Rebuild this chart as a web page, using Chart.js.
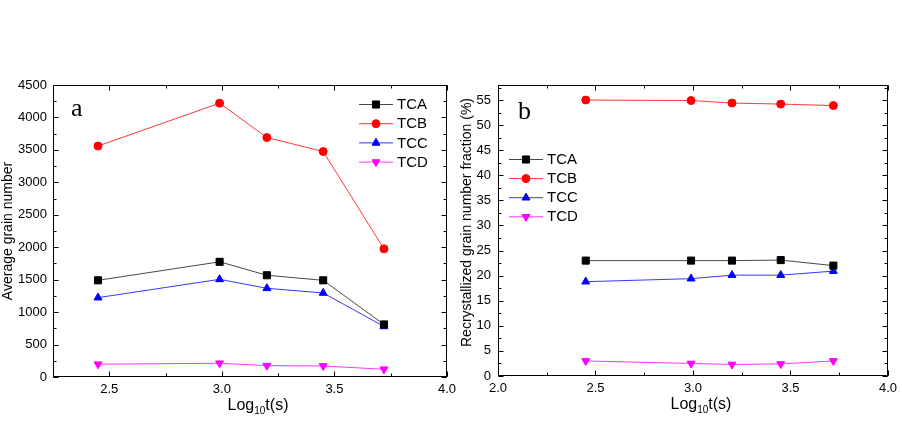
<!DOCTYPE html>
<html>
<head>
<meta charset="utf-8">
<script src="https://cdn.jsdelivr.net/npm/chart.js@4.4.0/dist/chart.umd.min.js"></script>
<style>
  html, body { margin: 0; padding: 0; background: #fff; }
  #wrap { position: relative; width: 902px; height: 424px; overflow: hidden; }
  #wrap canvas { position: absolute; top: 0; }
  #chartA { left: 0; }
  #chartB { left: 455px; }
</style>
</head>
<body>
<div id="wrap">
  <canvas id="chartA" width="470" height="424"></canvas>
  <canvas id="chartB" width="447" height="424"></canvas>
</div>
<script>
// ---- data ----
const logTime = [2.45, 2.99, 3.20, 3.45, 3.72];
const seriesNames = ['TCA', 'TCB', 'TCC', 'TCD'];

// (a) average grain number
const grainTCA = [1490, 1775, 1568, 1490, 810];
const grainTCB = [3560, 4220, 3690, 3475, 1975];
const grainTCC = [1223, 1505, 1367, 1295, 779];
const grainTCD = [197, 212, 175, 170, 119];

// (b) recrystallized grain number fraction (%)
const fracTCA = [23.0, 23.0, 23.0, 23.1, 22.0];
const fracTCB = [55.0, 54.9, 54.4, 54.2, 53.9];
const fracTCC = [18.8, 19.4, 20.1, 20.1, 20.9];
const fracTCD = [3.0, 2.5, 2.3, 2.4, 3.0];

const xTicksA = [2.5, 3.0, 3.5, 4.0];
const xTicksB = [2.0, 2.5, 3.0, 3.5, 4.0];
const yTicksA = [0, 500, 1000, 1500, 2000, 2500, 3000, 3500, 4000, 4500];
const yTicksB = [0, 5, 10, 15, 20, 25, 30, 35, 40, 45, 50, 55];

// marker / line style per series (Origin defaults)
const SERIES_STYLE = [
  { color: '#000000', line: '#333333', pointStyle: 'rect', radius: 5, rotation: 0 },
  { color: '#ff0000', line: '#ff2020', pointStyle: 'circle', radius: 4, rotation: 0 },
  { color: '#0000ff', line: '#2020ff', pointStyle: 'triangle', radius: 4.6, rotation: 0 },
  { color: '#ff00ff', line: '#ff20ff', pointStyle: 'triangle', radius: 4.6, rotation: 180 },
];

const FONT = "'Liberation Sans', Arial, sans-serif";

// frame, inward ticks, titles, legend and panel letter
const originPlugin = {
  id: 'origin',
  afterDatasetsDraw(chart, args, o) {
    const { ctx, chartArea: a, scales } = chart;
    const L = Math.round(a.left) + 0.5, R = Math.round(a.right) - 0.5;
    const T = Math.round(a.top) + 0.5, B = Math.round(a.bottom) - 0.5;
    ctx.save();
    ctx.strokeStyle = '#000';
    ctx.lineWidth = 1;
    ctx.strokeRect(L, T, R - L, B - T);

    const tick = (len, vx, vy) => {
      ctx.beginPath();
      vx.forEach(v => {
        const p = Math.round(scales.x.getPixelForValue(v)) + 0.5;
        ctx.moveTo(p, B); ctx.lineTo(p, B - len);
        ctx.moveTo(p, T); ctx.lineTo(p, T + len);
      });
      vy.forEach(v => {
        const p = Math.round(scales.y.getPixelForValue(v)) + 0.5;
        ctx.moveTo(L, p); ctx.lineTo(L + len, p);
        ctx.moveTo(R, p); ctx.lineTo(R - len, p);
      });
      ctx.stroke();
    };
    const xMaj = scales.x.ticks.map(t => t.value);
    const yMaj = scales.y.ticks.map(t => t.value);
    const xMin = [], yMin = [];
    for (let v = scales.x.min; v <= scales.x.max + 1e-9; v += o.xMinor) xMin.push(v);
    for (let v = scales.y.min; v <= scales.y.max + 1e-9; v += o.yMinor) yMin.push(v);
    tick(3, xMin, yMin);
    tick(5, xMaj, yMaj);

    ctx.fillStyle = '#000';
    // panel letter
    ctx.font = `${o.letterSize}px 'Liberation Serif', 'Times New Roman', serif`;
    ctx.textAlign = 'left';
    ctx.textBaseline = 'alphabetic';
    ctx.fillText(o.letter, a.left + o.letterX, a.top + o.letterY);

    // y title
    ctx.save();
    ctx.translate(o.yTitleX, (a.top + a.bottom) / 2 + o.yTitleShift);
    ctx.rotate(-Math.PI / 2);
    ctx.font = `14px ${FONT}`;
    ctx.textAlign = 'center';
    ctx.textBaseline = 'middle';
    ctx.fillText(o.yTitle, 0, 0);
    ctx.restore();

    // x title Log10t(s)
    const big = `16px ${FONT}`, small = `10px ${FONT}`;
    ctx.font = big; const w1 = ctx.measureText('Log').width, w3 = ctx.measureText('t(s)').width;
    ctx.font = small; const w2 = ctx.measureText('10').width;
    let x = (a.left + a.right) / 2 + 8 - (w1 + w2 + w3) / 2;
    const base = a.bottom + 33;
    ctx.textAlign = 'left';
    ctx.font = big; ctx.fillText('Log', x, base); x += w1;
    ctx.font = small; ctx.fillText('10', x, base + 4); x += w2;
    ctx.font = big; ctx.fillText('t(s)', x, base);

    // legend inside the frame
    ctx.font = `15px ${FONT}`;
    ctx.textBaseline = 'middle';
    chart.data.datasets.forEach((ds, i) => {
      const y = a.top + o.legendTop + i * o.legendGap;
      const x0 = a.left + o.legendLeft;
      ctx.strokeStyle = ds.borderColor;
      ctx.lineWidth = ds.borderWidth;
      ctx.beginPath(); ctx.moveTo(x0, y + 0.5); ctx.lineTo(x0 + 34, y + 0.5); ctx.stroke();
      ctx.lineWidth = 1;
      ctx.fillStyle = ds.pointBackgroundColor;
      ctx.strokeStyle = ds.pointBorderColor;
      Chart.helpers.drawPoint(ctx, {
        pointStyle: ds.pointStyle, rotation: ds.pointRotation,
        radius: ds.pointRadius, borderWidth: 1,
      }, x0 + 17, y + 0.5);
      ctx.fillStyle = '#000';
      ctx.fillText(ds.label, x0 + 38, y + 1);
    });
    ctx.restore();
  },
};

function buildDatasets(valueLists) {
  return valueLists.map((vals, i) => {
    const s = SERIES_STYLE[i];
    return {
      label: seriesNames[i],
      data: vals.map((v, j) => ({ x: logTime[j], y: v })),
      borderColor: s.line,
      backgroundColor: s.color,
      pointBackgroundColor: s.color,
      pointBorderColor: s.color,
      borderWidth: 0.9,
      pointBorderWidth: 1,
      pointStyle: s.pointStyle,
      pointRadius: s.radius,
      pointRotation: s.rotation,
      tension: 0,
      clip: 10,
    };
  });
}

function makeChart(id, valueLists, cfg) {
  const el = document.getElementById(id);
  return new Chart(el.getContext('2d'), {
    type: 'line',
    data: { datasets: buildDatasets(valueLists) },
    plugins: [originPlugin],
    options: {
      responsive: false,
      animation: false,
      events: [],
      layout: { padding: { left: 0, top: 85, right: el.width - cfg.plotRight, bottom: 0 } },
      plugins: {
        legend: { display: false },
        tooltip: { enabled: false },
        origin: cfg.origin,
      },
      scales: {
        x: {
          type: 'linear',
          min: cfg.xMin, max: 4.0,
          afterBuildTicks: sc => { sc.ticks = cfg.xTicks.map(v => ({ value: v })); },
          afterFit: sc => { sc.height = 424 - cfg.plotBottom; },
          grid: { display: false, drawTicks: false },
          border: { display: false },
          ticks: {
            color: '#000', padding: 5, maxRotation: 0, autoSkip: false,
            font: { family: FONT, size: 13 },
            callback: v => v.toFixed(1),
          },
        },
        y: {
          type: 'linear',
          min: 0, max: cfg.yMax,
          afterBuildTicks: sc => { sc.ticks = cfg.yTicks.map(v => ({ value: v })); },
          afterFit: sc => { sc.width = cfg.plotLeft; },
          grid: { display: false, drawTicks: false },
          border: { display: false },
          ticks: {
            color: '#000', padding: cfg.yPad, autoSkip: false,
            font: { family: FONT, size: 13 },
            callback: v => String(v),
          },
        },
      },
    },
  });
}

makeChart('chartA', [grainTCA, grainTCB, grainTCC, grainTCD], {
  xMin: 2.25, yMax: 4500, xTicks: xTicksA, yTicks: yTicksA,
  plotLeft: 53, plotRight: 447, plotBottom: 377, yPad: 6,
  origin: {
    xMinor: 0.25, yMinor: 250,
    letter: 'a', letterSize: 26, letterX: 18, letterY: 31,
    yTitle: 'Average grain number', yTitleX: 8, yTitleShift: 0,
    legendLeft: 306, legendTop: 19, legendGap: 19.2,
  },
});

makeChart('chartB', [fracTCA, fracTCB, fracTCC, fracTCD], {
  xMin: 2.0, yMax: 58, xTicks: xTicksB, yTicks: yTicksB,
  plotLeft: 43, plotRight: 436, plotBottom: 376, yPad: 7,
  origin: {
    xMinor: 0.25, yMinor: 2.5,
    letter: 'b', letterSize: 26, letterX: 20, letterY: 34,
    yTitle: 'Recrystallized grain number fraction (%)', yTitleX: 12, yTitleShift: -8,
    legendLeft: 11, legendTop: 74, legendGap: 19.1,
  },
});
</script>
</body>
</html>
